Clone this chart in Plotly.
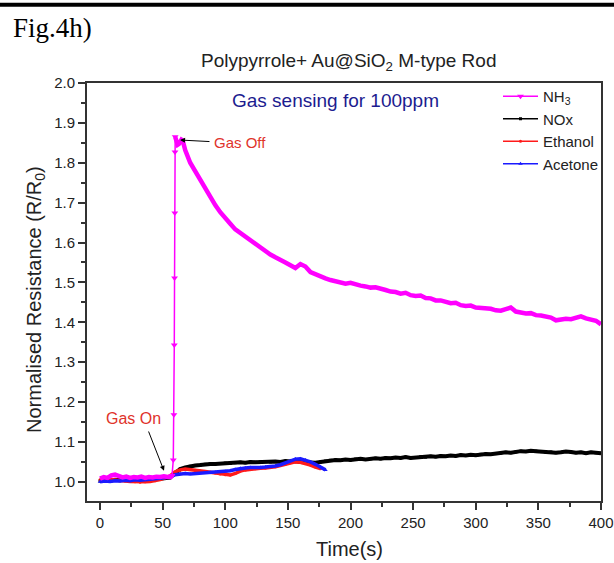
import plotly.graph_objects as go

# ---------------- data ----------------
# NH3 : baseline, rise, recovery
t_nh3_base = [0, 3, 6, 9, 12, 15, 18, 21, 24, 27, 30, 33, 36, 39, 42, 45, 48, 51, 54, 57]
r_nh3_base = [1.008, 1.012, 1.010, 1.016, 1.018, 1.013, 1.011, 1.013, 1.010, 1.012,
              1.011, 1.013, 1.010, 1.012, 1.011, 1.013, 1.012, 1.014, 1.012, 1.013]
t_nh3_rise = [57, 57.5, 58.5, 59.0, 59.3, 59.5, 59.7, 59.85, 60]
r_nh3_rise = [1.013, 1.016, 1.055, 1.168, 1.343, 1.511, 1.674, 1.827, 1.865]
t_nh3_rec = [60, 61, 62, 63, 64, 65, 66, 67, 68] + list(range(72, 401, 4))
r_nh3_rec = [1.865, 1.852, 1.845, 1.847, 1.853, 1.858, 1.856, 1.845, 1.832,
             1.800, 1.778, 1.755, 1.733, 1.712, 1.694, 1.676, 1.660, 1.647, 1.633,
             1.624, 1.613, 1.603, 1.596, 1.588, 1.578, 1.570, 1.563, 1.555, 1.550,
             1.543, 1.536, 1.546, 1.540, 1.526, 1.520, 1.515, 1.510, 1.506, 1.503,
             1.502, 1.497, 1.499, 1.494, 1.492, 1.490, 1.487, 1.488, 1.483, 1.481,
             1.477, 1.476, 1.472, 1.474, 1.468, 1.466, 1.467, 1.461, 1.460, 1.455,
             1.455, 1.450, 1.448, 1.449, 1.443, 1.441, 1.442, 1.437, 1.436, 1.433,
             1.434, 1.430, 1.429, 1.433, 1.437, 1.427, 1.424, 1.422, 1.423, 1.418,
             1.417, 1.414, 1.412, 1.405, 1.407, 1.409, 1.408, 1.412, 1.415, 1.410,
             1.406, 1.404, 1.395]

t_nox = list(range(0, 401, 4))
r_nox = [1.002, 1.004, 1.003, 1.005, 1.004, 1.006, 1.005, 1.007, 1.006, 1.008,
         1.007, 1.009, 1.008, 1.010, 1.011, 1.022, 1.032, 1.036, 1.039, 1.041,
         1.042, 1.044, 1.045, 1.045, 1.046, 1.047, 1.046, 1.048, 1.049, 1.048,
         1.050, 1.049, 1.050, 1.051, 1.050, 1.051, 1.050, 1.052, 1.051, 1.052,
         1.050, 1.049, 1.048, 1.048, 1.050, 1.052, 1.054, 1.055, 1.054, 1.056,
         1.055, 1.057, 1.058, 1.056, 1.058, 1.059, 1.058, 1.060, 1.059, 1.061,
         1.060, 1.062, 1.060, 1.061, 1.063, 1.062, 1.064, 1.063, 1.065, 1.064,
         1.066, 1.065, 1.067, 1.066, 1.068, 1.067, 1.069, 1.070, 1.069, 1.071,
         1.072, 1.074, 1.073, 1.075, 1.077, 1.076, 1.078, 1.077, 1.076, 1.074,
         1.075, 1.073, 1.074, 1.076, 1.075, 1.073, 1.074, 1.072, 1.074, 1.073,
         1.072]

t_eth = list(range(0, 177, 4))
r_eth = [1.005, 1.008, 1.006, 1.004, 1.003, 1.002, 1.001, 1.000, 0.999, 1.000,
         1.001, 1.003, 1.006, 1.010, 1.015, 1.025, 1.030, 1.032, 1.031, 1.029,
         1.027, 1.026, 1.024, 1.022, 1.020, 1.018, 1.017, 1.021, 1.027, 1.030,
         1.032, 1.033, 1.034, 1.035, 1.036, 1.038, 1.041, 1.044, 1.048, 1.050,
         1.049, 1.046, 1.042, 1.037, 1.033]

t_ace = list(range(0, 181, 4))
r_ace = [1.000, 1.002, 1.001, 1.003, 1.002, 1.004, 1.003, 1.005, 1.004, 1.006,
         1.007, 1.008, 1.009, 1.010, 1.012, 1.018, 1.020, 1.021, 1.020, 1.021,
         1.022, 1.022, 1.023, 1.024, 1.025, 1.026, 1.028, 1.031, 1.034, 1.035,
         1.036, 1.035, 1.036, 1.037, 1.038, 1.040, 1.043, 1.048, 1.053, 1.057,
         1.058, 1.055, 1.050, 1.044, 1.037, 1.030]

x_ticks = [0, 50, 100, 150, 200, 250, 300, 350, 400]
y_ticks = [1.0, 1.1, 1.2, 1.3, 1.4, 1.5, 1.6, 1.7, 1.8, 1.9, 2.0]
y_tick_labels = ["1.0", "1.1", "1.2", "1.3", "1.4", "1.5", "1.6", "1.7", "1.8", "1.9", "2.0"]

# ---------------- styles ----------------
FONT = "Liberation Sans, Arial, sans-serif"
C_NH3, C_NOX, C_ETH, C_ACE = "#ff00ff", "#000000", "#ff1a1a", "#1a1aff"
C_NOTE = "#e0332b"

# plot area in pixels
L, R, T, B = 87, 13, 83, 62
W, H = 614 - L - R, 563 - T - B


def px_x(p):
    return (p - L) / W


def px_y(p):
    return 1 - (p - T) / H


fig = go.Figure()

# thin legend traces (underneath)
fig.add_trace(go.Scatter(x=t_nox, y=r_nox, name="NOx", mode="lines+markers",
                         line=dict(color=C_NOX, width=1.5),
                         marker=dict(symbol="square", size=3, color=C_NOX), legendrank=2))
fig.add_trace(go.Scatter(x=t_eth, y=r_eth, name="Ethanol", mode="lines+markers",
                         line=dict(color=C_ETH, width=1.5),
                         marker=dict(symbol="circle", size=3, color=C_ETH), legendrank=3))
fig.add_trace(go.Scatter(x=t_ace, y=r_ace, name="Acetone", mode="lines+markers",
                         line=dict(color=C_ACE, width=1.5),
                         marker=dict(symbol="triangle-up", size=4, color=C_ACE), legendrank=4))

# thick visible lines
fig.add_trace(go.Scatter(x=t_nox, y=r_nox, mode="lines", showlegend=False,
                         line=dict(color=C_NOX, width=4)))
fig.add_trace(go.Scatter(x=t_eth, y=r_eth, mode="lines", showlegend=False,
                         line=dict(color=C_ETH, width=3.5)))
fig.add_trace(go.Scatter(x=t_ace, y=r_ace, mode="lines", showlegend=False,
                         line=dict(color=C_ACE, width=3.5)))
fig.add_trace(go.Scatter(x=t_nh3_base, y=r_nh3_base, mode="lines", showlegend=False,
                         line=dict(color=C_NH3, width=4.5)))
fig.add_trace(go.Scatter(x=t_nh3_rec, y=r_nh3_rec, mode="lines", showlegend=False,
                         line=dict(color=C_NH3, width=4.5)))
fig.add_trace(go.Scatter(x=t_nh3_rise, y=r_nh3_rise, name="NH<sub>3</sub>",
                         mode="lines+markers", line=dict(color=C_NH3, width=1.5),
                         marker=dict(symbol="triangle-down", size=6, color=C_NH3),
                         legendrank=1))

axis_common = dict(showline=True, linecolor="#333333", linewidth=2, mirror=True,
                   ticks="outside", ticklen=7, tickwidth=1.5, tickcolor="#333333",
                   showgrid=False, zeroline=False, automargin=False,
                   tickfont=dict(family=FONT, size=15, color="#222222"))

fig.update_xaxes(range=[-10.4, 400], tickvals=x_ticks,
                 minor=dict(ticks="outside", ticklen=4, dtick=25, tick0=0,
                            tickcolor="#333333", tickwidth=1.5),
                 **axis_common)
fig.update_yaxes(range=[0.952, 2.0], tickvals=y_ticks, ticktext=y_tick_labels,
                 minor=dict(ticks="outside", ticklen=4, dtick=0.05, tick0=0,
                            tickcolor="#333333", tickwidth=1.5),
                 **axis_common)

annotations = [
    dict(text="Fig.4h)", xref="paper", yref="paper", x=px_x(11), y=px_y(28),
         xanchor="left", yanchor="middle", showarrow=False,
         font=dict(family="Liberation Serif, Times New Roman, serif", size=27, color="black")),
    dict(text="Polypyrrole+ Au@SiO<sub>2</sub> M-type Rod", xref="paper", yref="paper",
         x=px_x(348), y=px_y(62), xanchor="center", yanchor="middle",
         showarrow=False, font=dict(family=FONT, size=19, color="#222222")),
    dict(text="Time(s)", xref="paper", yref="paper", x=px_x(349), y=px_y(549),
         xanchor="center", yanchor="middle", showarrow=False,
         font=dict(family=FONT, size=20, color="#222222")),
    dict(text="Normalised Resistance (R/R<sub>0</sub>)", xref="paper", yref="paper",
         x=px_x(35), y=px_y(300), xanchor="center", yanchor="middle", textangle=-90,
         showarrow=False, font=dict(family=FONT, size=20, color="#222222")),
    dict(text="Gas sensing for 100ppm", xref="x", yref="y", x=188, y=1.955,
         xanchor="center", yanchor="middle", showarrow=False,
         font=dict(family=FONT, size=19, color="#1c1c8f")),
    dict(text="Gas Off", xref="x", yref="y", x=89.4, y=1.8496, xanchor="left",
         yanchor="middle", showarrow=False, font=dict(family=FONT, size=15, color=C_NOTE)),
    dict(text="Gas On", xref="x", yref="y", x=27.1, y=1.158, xanchor="center",
         yanchor="middle", showarrow=False, font=dict(family=FONT, size=16, color=C_NOTE)),
    dict(text="", xref="x", yref="y", x=63.9, y=1.857, axref="x", ayref="y",
         ax=88.6, ay=1.853, showarrow=True, arrowhead=2, arrowsize=1, arrowwidth=1,
         arrowcolor="black"),
    dict(text="", xref="x", yref="y", x=51.1, y=1.0276, axref="x", ayref="y",
         ax=38.3, ay=1.130, showarrow=True, arrowhead=2, arrowsize=1, arrowwidth=1,
         arrowcolor="black"),
]

shapes = [
    dict(type="line", xref="paper", yref="paper", x0=px_x(0), x1=px_x(614),
         y0=px_y(4.7), y1=px_y(4.7), line=dict(color="black", width=4)),
]

fig.update_layout(
    width=614, height=563,
    margin=dict(l=L, r=R, t=T, b=B, autoexpand=False),
    paper_bgcolor="white", plot_bgcolor="white",
    font=dict(family=FONT, color="#222222"),
    showlegend=True,
    legend=dict(x=px_x(498), y=px_y(80), xanchor="left", yanchor="top",
                bgcolor="rgba(0,0,0,0)", borderwidth=0, itemwidth=35,
                font=dict(family=FONT, size=15, color="#222222"), tracegroupgap=0),
    annotations=annotations,
    shapes=shapes,
)

fig.write_html("out.html", config={"displayModeBar": False},
               post_script="document.body.style.margin='0px';")
